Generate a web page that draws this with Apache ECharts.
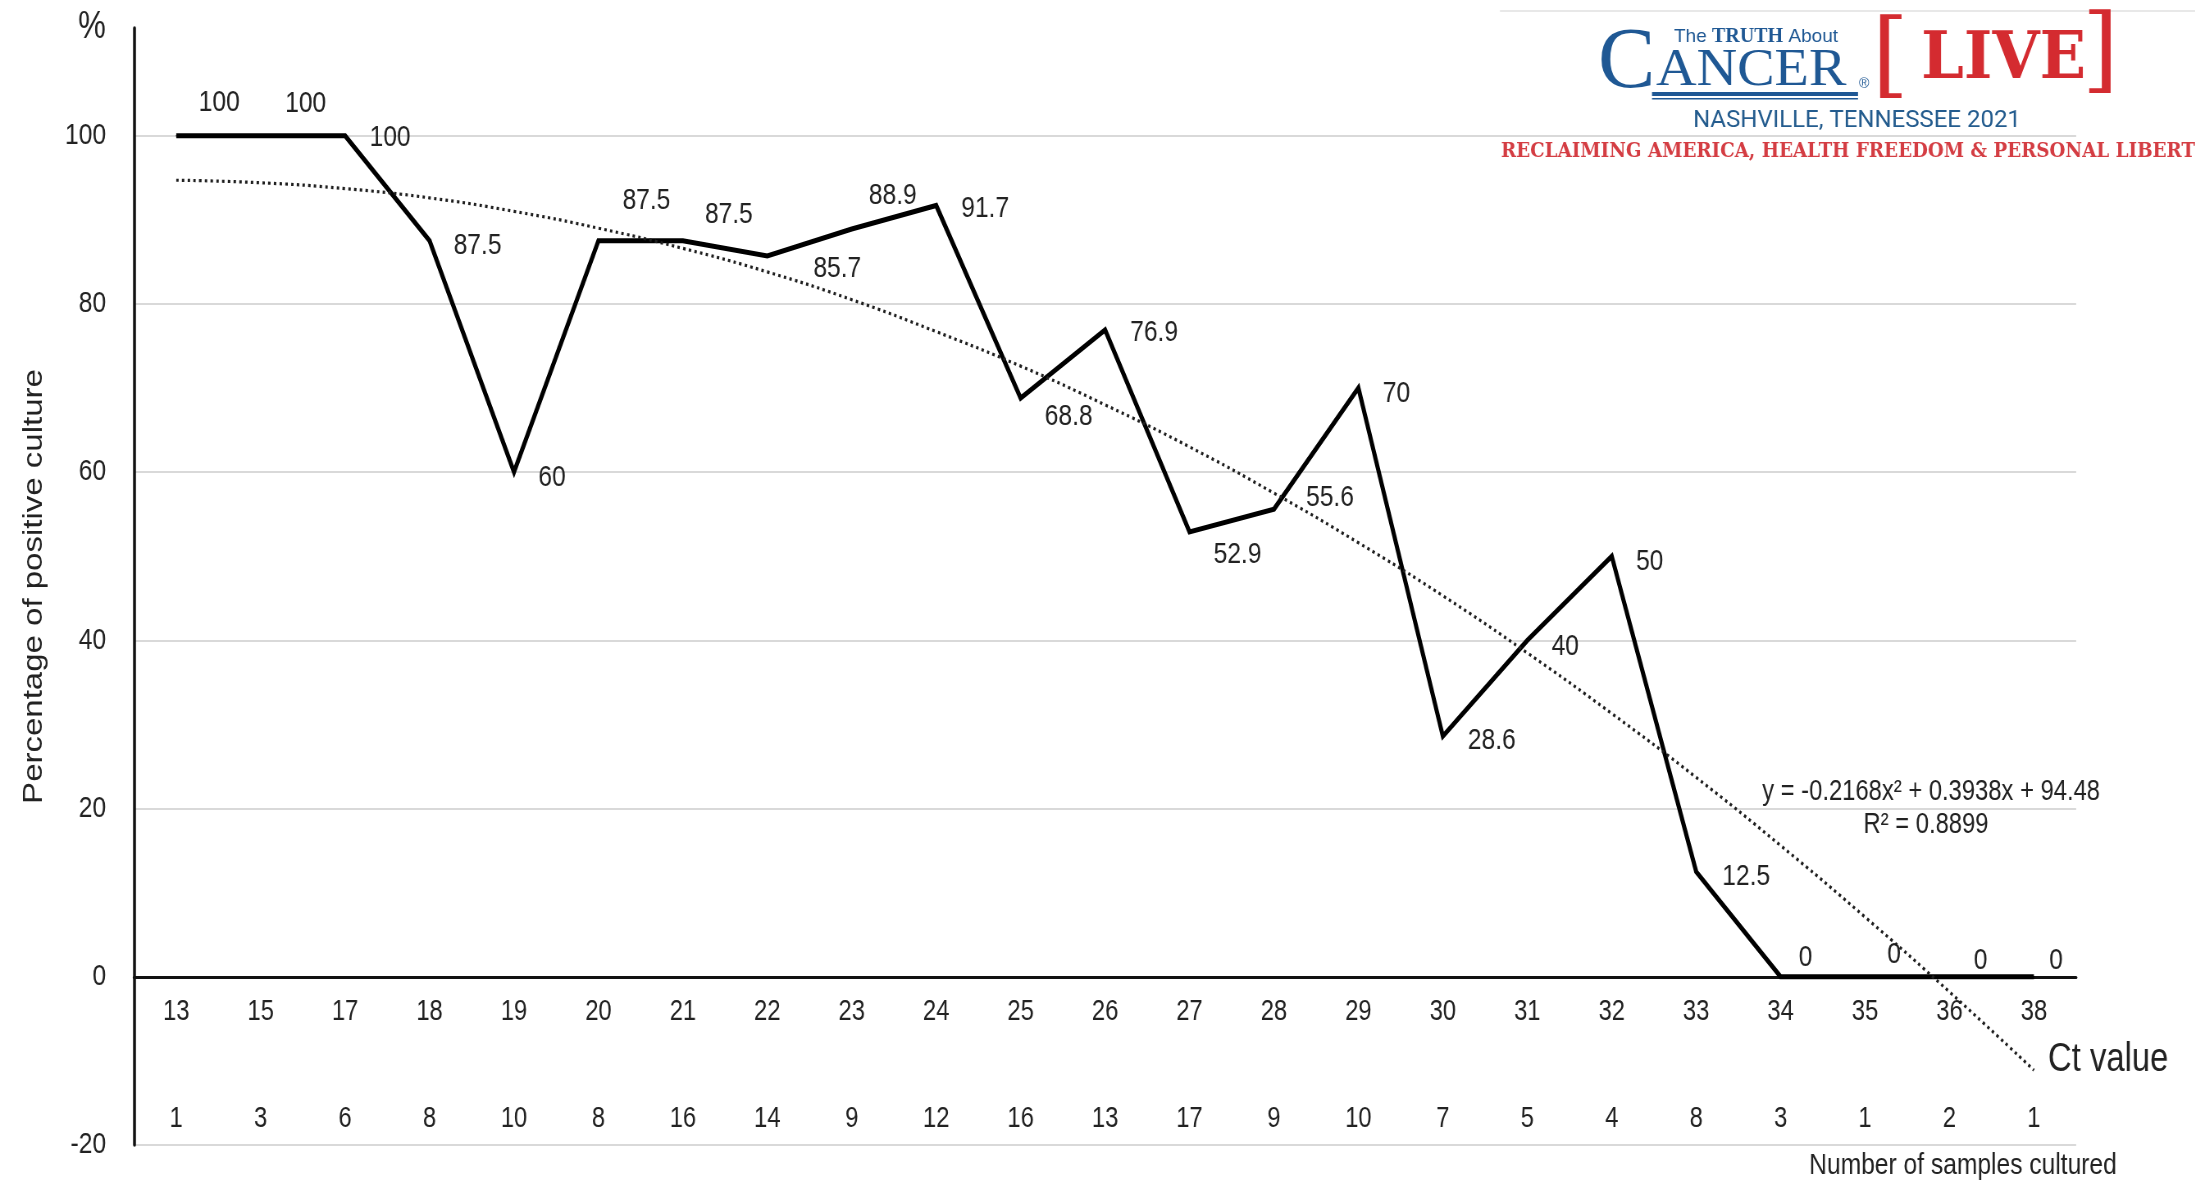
<!DOCTYPE html>
<html>
<head>
<meta charset="utf-8">
<script src="https://cdn.jsdelivr.net/npm/echarts@6/dist/echarts.min.js"></script>
<style>
  html, body { margin: 0; padding: 0; background: #ffffff; overflow: hidden; width: 2195px; height: 1184px; }
  /* The chart is laid out wider and compressed horizontally, which gives the narrow lettering */
  #chart { width: 2677px; height: 1184px; transform: scaleX(0.82); transform-origin: 0 0; }
</style>
</head>
<body>
<div id="chart"></div>
<script>
// Ct value of each group of samples
const ctValues = ['13', '15', '17', '18', '19', '20', '21', '22', '23', '24', '25', '26',
                  '27', '28', '29', '30', '31', '32', '33', '34', '35', '36', '38'];
// Number of samples cultured at each Ct value
const samplesCultured = ['1', '3', '6', '8', '10', '8', '16', '14', '9', '12', '16', '13',
                         '17', '9', '10', '7', '5', '4', '8', '3', '1', '2', '1'];
// Percentage of positive culture
const positivePct = [100, 100, 100, 87.5, 60, 87.5, 87.5, 85.7, 88.9, 91.7, 68.8, 76.9,
                     52.9, 55.6, 70, 28.6, 40, 50, 12.5, 0, 0, 0, 0];
// Polynomial trend line (order 2) at each Ct value
const trendPct = [94.7, 94.4, 93.7, 92.6, 91.0, 89.0, 86.6, 83.8, 80.5, 76.7, 72.6, 68.0,
                  63.0, 57.5, 51.6, 45.3, 38.5, 31.3, 23.7, 15.6, 7.1, -1.8, -11.1];
// Labelled ticks of the percentage axis
const yTicks = [-20, 0, 20, 40, 60, 80, 100];

const trendEquation = 'y = -0.2168x\u00B2 + 0.3938x + 94.48';
const trendR2 = 'R\u00B2 = 0.8899';

// Horizontal compression applied to the chart container (see CSS)
const SX = 0.82;
const ix = x => x / SX;   // on-screen x -> chart x

// Where each value label sits relative to its point (on-screen px)
const labelOffsets = [[43, -33], [45, -32], [45, 2], [48, 5], [38, 6], [48, -40], [46, -26],
                      [70, 13], [41, -33], [49, 3], [48, 19], [49, 3], [48, 23], [56, -11],
                      [38, 6], [49, 5], [38, 6], [38, 6], [50, 5], [25, -19], [29, -22],
                      [31, -16], [22, -16]];

const FONT = '"Liberation Sans", Arial, sans-serif';
const TEXT = '#222222';
const BLUE = '#1f5894';
const RED = '#d42b30';

const Y_MIN = -20, Y_MAX = 112.8;
const GRID_TOP = 28, GRID_BOTTOM = 39, CHART_H = 1184;
// Lift the category axes from the grid bottom up to the zero line
const zeroLift = (0 - Y_MIN) / (Y_MAX - Y_MIN) * (CHART_H - GRID_TOP - GRID_BOTTOM);

// Horizontal scale that makes a string span a given width in a given font
const measureCtx = document.createElement('canvas').getContext('2d');
function fitScale(text, font, width) {
  measureCtx.font = font;
  return width / measureCtx.measureText(text).width;
}

const LIVE_FONT = 'bold 66px "DejaVu Serif", serif';
const MOTTO = 'RECLAIMING AMERICA, HEALTH FREEDOM & PERSONAL LIBERTY';
const MOTTO_FONT = 'bold 20px "DejaVu Serif", serif';

const chart = echarts.init(document.getElementById('chart'), null, { renderer: 'canvas' });

// Banner pieces, positioned relative to the banner's left edge (x = 1500 on screen)
const banner = [
  { type: 'rect', shape: { x: 0, y: 11, width: 700, height: 175 }, style: { fill: '#ffffff' } },
  { type: 'line', shape: { x1: 0, y1: 11, x2: 700, y2: 11 }, style: { stroke: '#e8e8e8', lineWidth: 2 } },
  {
    type: 'text', x: 174, y: 37,
    style: {
      text: '{a|The }{b|TRUTH}{a| About}', verticalAlign: 'middle', align: 'left',
      rich: {
        a: { fontFamily: '"Liberation Sans", Arial, sans-serif', fontSize: 19, fill: BLUE, color: BLUE },
        b: { fontFamily: '"Liberation Serif", serif', fontWeight: 'bold', fontSize: 20, fill: BLUE, color: BLUE }
      }
    }
  },
  { type: 'text', x: 98, y: 64, style: { text: 'C', font: '86px "Liberation Serif", serif', fill: BLUE, align: 'left', verticalAlign: 'middle' } },
  { type: 'text', x: 156, y: 71, scaleX: 1.08, style: { text: 'ANCER', font: '52px "Liberation Serif", serif', fill: BLUE, align: 'left', verticalAlign: 'middle' } },
  { type: 'rect', shape: { x: 152, y: 92, width: 206, height: 4 }, style: { fill: BLUE } },
  { type: 'rect', shape: { x: 152, y: 98, width: 206, height: 1.5 }, style: { fill: BLUE } },
  { type: 'text', x: 364, y: 84, style: { text: '\u00AE', font: '14px "Liberation Sans", sans-serif', fill: BLUE, align: 'center', verticalAlign: 'middle' } },
  { type: 'text', x: 372, y: 62, style: { text: '[', font: '94px "DejaVu Serif", serif', fill: RED, align: 'left', verticalAlign: 'middle' } },
  { type: 'text', x: 421, y: 61, scaleX: fitScale('LIVE', LIVE_FONT, 165), style: { text: 'LIVE', font: LIVE_FONT, fill: RED, align: 'left', verticalAlign: 'middle' } },
  { type: 'text', x: 582, y: 57, style: { text: ']', font: '94px "DejaVu Serif", serif', fill: RED, align: 'left', verticalAlign: 'middle' } },
  { type: 'text', x: 357, y: 121, style: { text: 'NASHVILLE, TENNESSEE 2021', font: '24px Roboto, "Liberation Sans", sans-serif', fill: '#245c8e', align: 'center', verticalAlign: 'middle' } },
  { type: 'text', x: 1, y: 152, scaleX: fitScale(MOTTO.slice(0, -1), MOTTO_FONT, 694), style: { text: MOTTO, font: MOTTO_FONT, fill: '#d43d43', align: 'left', verticalAlign: 'middle' } }
];

const option = {
  backgroundColor: '#ffffff',
  animation: false,
  grid: { left: ix(134), right: ix(119), top: GRID_TOP, bottom: GRID_BOTTOM, outerBoundsMode: 'none' },
  xAxis: [
    {
      type: 'category',
      data: ctValues,
      position: 'bottom',
      offset: -zeroLift,
      boundaryGap: true,
      axisLine: { onZero: false, lineStyle: { color: '#111111', width: 3 } },
      axisTick: { show: false },
      axisLabel: { interval: 0, margin: 21, fontSize: 29, color: TEXT, fontFamily: FONT },
      splitLine: { show: false }
    },
    {
      type: 'category',
      data: samplesCultured,
      position: 'bottom',
      offset: -zeroLift,
      boundaryGap: true,
      axisLine: { show: false, onZero: false },
      axisTick: { show: false },
      axisLabel: { interval: 0, margin: 128, fontSize: 29, color: TEXT, fontFamily: FONT },
      splitLine: { show: false }
    }
  ],
  yAxis: {
    type: 'value',
    min: Y_MIN,
    max: Y_MAX,
    interval: 20,
    name: 'Percentage of positive culture',
    nameLocation: 'middle',
    nameGap: 105,
    nameTextStyle: { fontSize: 33, color: TEXT, fontFamily: FONT },
    axisLine: { show: true, lineStyle: { color: '#111111', width: 3.5 } },
    axisTick: { show: false },
    axisLabel: {
      margin: 34, fontSize: 30, color: TEXT, fontFamily: FONT,
      formatter: v => (yTicks.includes(v) ? String(v) : '')
    },
    splitLine: { show: true, showMaxLine: false, lineStyle: { color: '#d9d9d9', width: 2 } }
  },
  series: [
    {
      name: 'Positive culture',
      type: 'line',
      data: positivePct.map((v, i) => ({
        value: v,
        label: { offset: [ix(labelOffsets[i][0]), labelOffsets[i][1]] }
      })),
      symbol: 'circle',
      symbolSize: 1,
      itemStyle: { color: '#000000' },
      lineStyle: { color: '#000000', width: 5, join: 'miter' },
      label: {
        show: true, position: 'inside', fontSize: 30, color: TEXT, fontFamily: FONT,
        formatter: p => String(p.value)
      },
      z: 3
    },
    {
      name: 'Trend',
      type: 'line',
      data: trendPct,
      smooth: true,
      symbol: 'none',
      silent: true,
      lineStyle: { color: '#1e1e1e', width: 3.2, type: [3, 4] },
      z: 4
    }
  ],
  graphic: [
    { type: 'text', x: ix(92), y: 28, style: { text: '%', font: '38px ' + FONT, fill: TEXT, align: 'center', verticalAlign: 'middle' } },
    { type: 'text', x: ix(2100), y: 792, style: { text: trendEquation, font: '29px ' + FONT, fill: TEXT, align: 'right', verticalAlign: 'middle' } },
    { type: 'text', x: ix(1926), y: 825, style: { text: trendR2, font: '29px ' + FONT, fill: TEXT, align: 'center', verticalAlign: 'middle' } },
    { type: 'text', x: ix(2048), y: 1060, style: { text: 'Ct value', font: '40px ' + FONT, fill: TEXT, align: 'left', verticalAlign: 'middle' } },
    { type: 'text', x: ix(1963), y: 1166, style: { text: 'Number of samples cultured', font: '30px ' + FONT, fill: TEXT, align: 'center', verticalAlign: 'middle' } },
    // banner drawn at true width: undo the container compression
    { type: 'group', x: ix(1500), y: 0, scaleX: 1 / SX, z: 100, children: banner }
  ]
};

chart.setOption(option);
</script>
</body>
</html>
